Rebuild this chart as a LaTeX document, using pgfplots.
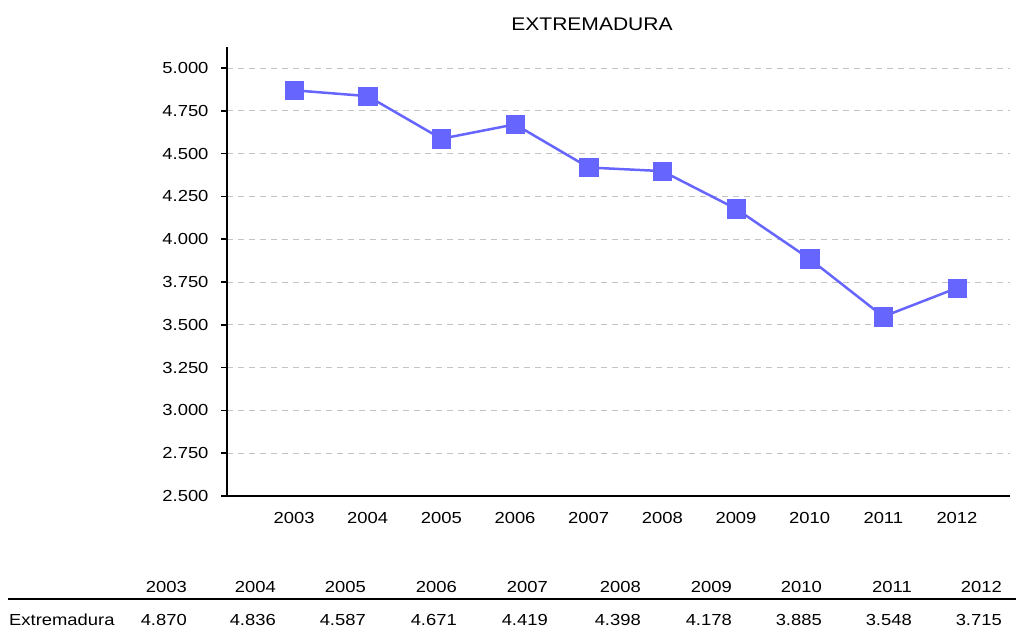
\documentclass[border=0pt]{standalone}
\usepackage{fontspec}
\setmainfont{Liberation Sans}[FakeStretch=1.15]
\usepackage{pgfplots}
\pgfplotsset{compat=1.18}
\definecolor{serie}{RGB}{102,102,255}
\definecolor{gridg}{RGB}{196,196,196}

\begin{document}
\begin{tikzpicture}
\useasboundingbox (0bp,0bp) rectangle (1016bp,636bp);
\begin{axis}[at={(227bp,140bp)}, anchor=south west,
  scale only axis, width=783bp, height=449bp,
  xmin=-0.91, xmax=9.72, ymin=2.5, ymax=5.123,
  axis lines=left, axis line style={-, line width=2bp, black},
  xtick={0,...,9},
  xticklabels={2003,2004,2005,2006,2007,2008,2009,2010,2011,2012},
  x tick style={draw=none},
  ytick={2.5,2.75,3,3.25,3.5,3.75,4,4.25,4.5,4.75,5},
  y tick style={line width=1.5bp, black},
  tick align=outside, major tick length=6bp,
  yticklabel style={xshift=-9bp, /pgf/number format/fixed, /pgf/number format/fixed zerofill,
    /pgf/number format/precision=3, /pgf/number format/assume math mode=true},
  xticklabel style={yshift=-7bp},
  ticklabel style={font=\fontsize{16bp}{19bp}\selectfont},
  ymajorgrids, grid style={gridg, line width=1bp, dash pattern=on 6bp off 5bp},
  clip=false]
  \addplot[serie, line width=2.5bp, mark=square*, mark size=9.2bp,
    mark options={line width=0.5bp}] coordinates {
    (0,4.870) (1,4.836) (2,4.587) (3,4.671) (4,4.419)
    (5,4.398) (6,4.178) (7,3.885) (8,3.548) (9,3.715)};
\end{axis}
\begin{scope}[x=1bp, y=1bp]
\node[font=\fontsize{18.3bp}{22bp}\selectfont] at (592,612) {EXTREMADURA};
\draw[line width=2bp] (8,37) -- (1016,37);
\node[anchor=base west, inner sep=0, font=\fontsize{16bp}{19bp}\selectfont] at (9,11) {Extremadura};
\foreach \xr/\yr/\v in {187/2003/4.870, 276/2004/4.836, 366/2005/4.587, 457/2006/4.671,
  548/2007/4.419, 641/2008/4.398, 732/2009/4.178, 822/2010/3.885, 912/2011/3.548, 1002/2012/3.715} {
  \node[anchor=base east, inner sep=0, font=\fontsize{16bp}{19bp}\selectfont] at (\xr,44) {\yr};
  \node[anchor=base east, inner sep=0, font=\fontsize{16bp}{19bp}\selectfont] at (\xr,11) {\v};
}
\end{scope}
\end{tikzpicture}
\end{document}
